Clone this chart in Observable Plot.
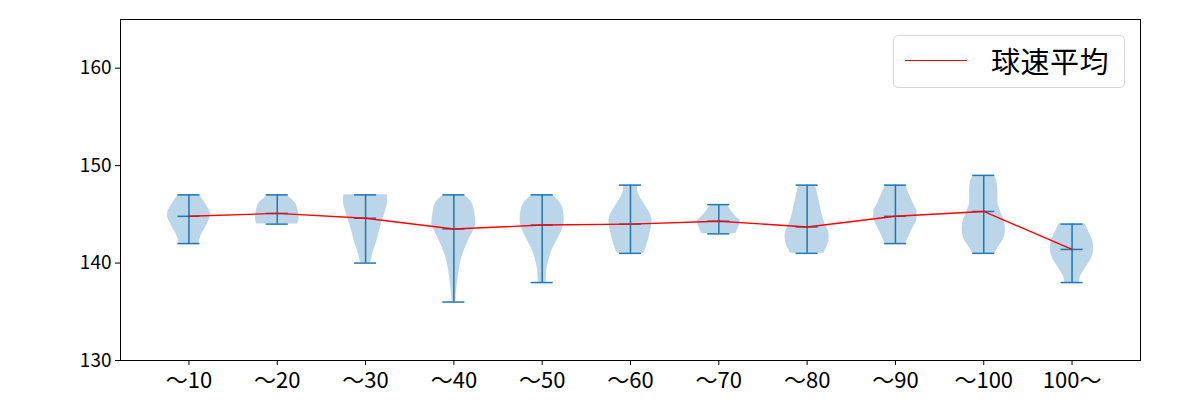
<!DOCTYPE html>
<html>
<head>
<meta charset="utf-8">
<script src="https://cdn.jsdelivr.net/npm/d3@7"></script>
<script src="https://cdn.jsdelivr.net/npm/@observablehq/plot@0.6"></script>
<style>
  body { margin: 0; background: white; }
  #wrap { position: relative; width: 1200px; height: 400px; }
  #legend {
    position: absolute; left: 893px; top: 35px; width: 232px; height: 53px;
    border: 1px solid #d4d4d4; border-radius: 5px; background: rgba(255,255,255,0.8);
    font-family: "Noto Sans CJK JP", sans-serif; font-size: 29px; color: #000;
    box-sizing: border-box;
  }
  #legend .swatch { position: absolute; left: 11px; top: 24px; width: 62px; height: 0; border-top: 1.5px solid red; }
  #legend .label { position: absolute; left: 97px; top: 4px; line-height: 40px; letter-spacing: 0.5px; }
  svg g[aria-label="x-axis tick label"] text { font-size: 22px; }
  svg g[aria-label="y-axis tick label"] text { font-size: 19px; }
</style>
</head>
<body>
<div id="wrap"><div id="legend"><div class="swatch"></div><div class="label">球速平均</div></div></div>
<script>
const categories = ["～10", "～20", "～30", "～40", "～50", "～60", "～70", "～80", "～90", "～100", "100～"];
const minSpeed  = [142, 144, 140, 136, 138, 141, 143, 141, 142, 141, 138];
const maxSpeed  = [147, 147, 147, 147, 147, 148, 146, 148, 148, 149, 144];
const meanSpeed = [144.8, 145.1, 144.6, 143.5, 143.9, 144.0, 144.3, 143.7, 144.8, 145.3, 141.4];
const yTicks = [130, 140, 150, 160];

// violin outlines: [speed, relative half-width]
const violinProfiles = [
  [[142,0.45],[142.7,0.53],[143.7,0.76],[144.95,0.98],[146.0,0.77],[147,0.47]],
  [[144,0.92],[144.45,0.98],[145.1,0.97],[145.6,0.92],[146.15,0.83],[146.6,0.62],[147,0.42]],
  [[140,0.23],[141.0,0.33],[142.0,0.48],[143.06,0.6],[144.1,0.73],[145.1,0.87],[145.8,0.97],[146.5,1.0],[147,0.98]],
  [[136,0.09],[137.2,0.12],[138.25,0.18],[139.3,0.24],[140.3,0.33],[141.34,0.48],[142.4,0.68],[143.4,0.9],[144.1,1.0],[145.1,0.95],[146.15,0.83],[147,0.45]],
  [[138,0.18],[139.28,0.21],[140.3,0.3],[141.34,0.45],[142.37,0.68],[143.4,0.9],[144.43,1.0],[145.1,0.98],[146.15,0.83],[147,0.45]],
  [[141,0.6],[141.2,0.64],[142.2,0.79],[143.2,0.9],[144.3,0.98],[144.95,0.91],[146.0,0.64],[147.0,0.38],[148,0.3]],
  [[143,0.75],[143.2,0.8],[143.7,0.9],[144.3,0.98],[144.8,0.76],[145.3,0.58],[146,0.38]],
  [[141,0.75],[141.34,0.83],[142.2,0.98],[142.9,1.0],[143.9,0.83],[144.95,0.68],[146.0,0.58],[147,0.48],[148,0.38]],
  [[142,0.47],[142.55,0.57],[143.6,0.79],[144.6,0.98],[145.3,0.98],[146,0.83],[147,0.64],[148,0.45]],
  [[141,0.5],[141.7,0.68],[142.5,0.9],[143.4,0.98],[144.26,0.94],[145.3,0.76],[146.3,0.64],[147.35,0.64],[148.4,0.6],[149,0.45]],
  [[138,0.33],[138.6,0.38],[139.45,0.6],[140.5,0.88],[141.5,0.98],[142.2,0.95],[143.2,0.76],[144,0.6]]
];

const stats = categories.map((c, i) => ({pos: i + 1, label: c, min: minSpeed[i], max: maxSpeed[i], mean: meanSpeed[i]}));
const outline = violinProfiles.flatMap((prof, i) => prof.map(([y, w]) => ({pos: i + 1, y, w})));
const halfWidth = 0.25, capHalf = 0.125;
const blue = "#1f77b4";

const chart = Plot.plot({
  width: 1200, height: 400,
  marginLeft: 120, marginRight: 60, marginTop: 19, marginBottom: 40,
  style: {fontFamily: "'Noto Sans CJK JP', 'DejaVu Sans', sans-serif", fontSize: "18px", color: "black", background: "white"},
  x: {domain: [0.225, 11.775], ticks: stats.map(d => d.pos), tickFormat: d => categories[d - 1], tickSize: 5, tickPadding: 7, label: null},
  y: {domain: [130, 165], ticks: yTicks, tickSize: 5, label: null},
  marks: [
    Plot.areaX(outline, {y: "y", x1: d => d.pos - d.w * halfWidth, x2: d => d.pos + d.w * halfWidth, z: "pos", fill: blue, fillOpacity: 0.3, curve: "monotone-y"}),
    Plot.ruleX(stats, {x: "pos", y1: "min", y2: "max", stroke: blue, strokeWidth: 1.5}),
    Plot.ruleY(stats, {y: "max", x1: d => d.pos - capHalf, x2: d => d.pos + capHalf, stroke: blue, strokeWidth: 1.5}),
    Plot.ruleY(stats, {y: "min", x1: d => d.pos - capHalf, x2: d => d.pos + capHalf, stroke: blue, strokeWidth: 1.5}),
    Plot.ruleY(stats, {y: "mean", x1: d => d.pos - capHalf, x2: d => d.pos + capHalf, stroke: blue, strokeWidth: 1.5}),
    Plot.line(stats, {x: "pos", y: "mean", stroke: "red", strokeWidth: 1.4}),
    Plot.frame({stroke: "black", strokeWidth: 1})
  ]
});
document.getElementById("wrap").prepend(chart);
</script>
</body>
</html>
